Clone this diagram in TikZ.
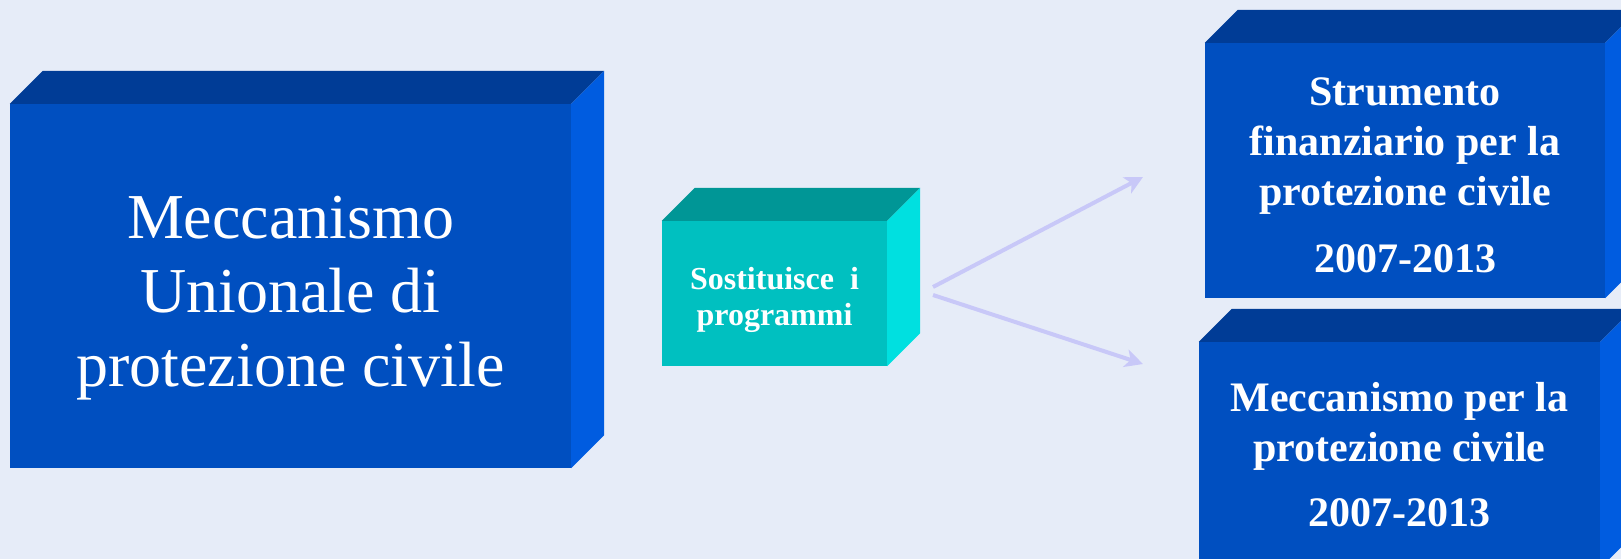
\documentclass[tikz,border=0pt]{standalone}
\usepackage{fontspec}
\setmainfont{Liberation Serif}
\usetikzlibrary{arrows.meta}

\definecolor{bgcol}{RGB}{230,236,248}
\definecolor{frontblue}{RGB}{0,79,192}
\definecolor{topblue}{RGB}{0,60,150}
\definecolor{sideblue}{RGB}{0,92,224}
\definecolor{frontteal}{RGB}{0,192,192}
\definecolor{topteal}{RGB}{0,150,150}
\definecolor{sideteal}{RGB}{0,224,224}
\definecolor{arrowcol}{RGB}{200,200,248}

\tikzset{
	frontbox/.style={rectangle,inner sep=0pt,fill=#1},
	boxtext/.style={inner sep=0pt,align=center,text=white},
	arrowline/.style={arrowcol,line width=4pt,-{Stealth[length=18pt,width=18pt,inset=5pt]}}
}

\begin{document}
\begin{tikzpicture}[x=1pt,y=-1pt]
	\useasboundingbox (0,0) rectangle (1621,559);
	\clip (0,0) rectangle (1621,559);
	\fill[bgcol] (0,0) rectangle (1621,559);
	\node[frontbox=frontblue,minimum width=561pt,minimum height=364pt] (mucp) at (290.5,286) {};
	\node[frontbox=frontteal,minimum width=225pt,minimum height=145pt] (sost) at (774.5,293.5) {};
	\node[frontbox=frontblue,minimum width=400pt,minimum height=255pt] (strum) at (1405,170.5) {};
	\node[frontbox=frontblue,minimum width=401pt,minimum height=226pt] (mecc) at (1399.5,455) {};
	\foreach \n/\tc/\sc in {mucp/topblue/sideblue,sost/topteal/sideteal,strum/topblue/sideblue,mecc/topblue/sideblue} {
		\fill[\tc] (\n.north west) -- ++(33,-33) -- ([shift={(33,-33)}]\n.north east) -- (\n.north east) -- cycle;
		\fill[\sc] (\n.north east) -- ++(33,-33) -- ([shift={(33,-33)}]\n.south east) -- (\n.south east) -- cycle;
	}
	\node[boxtext,font=\fontsize{64}{74}\selectfont] (mucp-text) at ([yshift=-12pt]mucp.center) {Meccanismo\\Unionale di\\protezione civile};
	\node[boxtext,font=\fontsize{32}{36}\selectfont\bfseries] (sost-text) at ([yshift=-6pt]sost.center) {Sostituisce\ \ i\\programmi};
	\node[boxtext,font=\fontsize{42}{50}\selectfont\bfseries] (strum-text) at ([yshift=-5pt]strum.center) {Strumento\\finanziario per la\\protezione civile\\[17pt]2007-2013};
	\node[boxtext,font=\fontsize{42}{50}\selectfont\bfseries] (mecc-text) at (mecc.center) {Meccanismo per la\\protezione civile\\[15pt]2007-2013};
	\coordinate (splitA) at (933,287);
	\coordinate (splitB) at (933,295);
	\coordinate (tipA) at (1143,177);
	\coordinate (tipB) at (1143,364);
	\draw[arrowline] (splitA) -- (tipA);
	\draw[arrowline] (splitB) -- (tipB);
\end{tikzpicture}
\end{document}
